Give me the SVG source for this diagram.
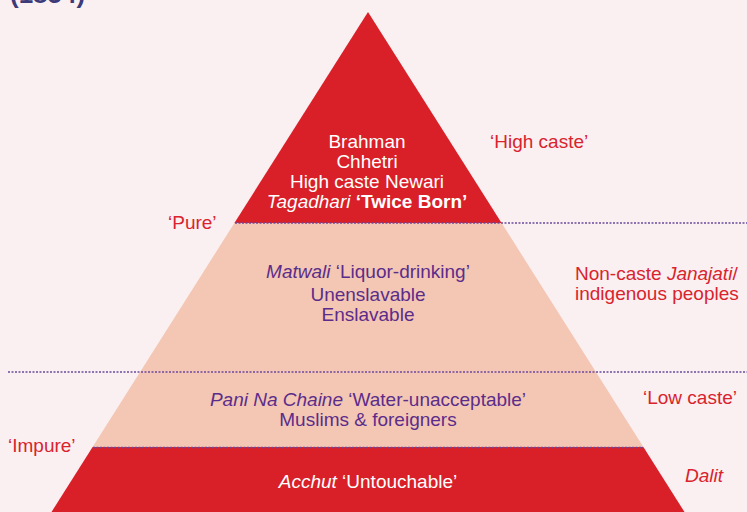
<svg xmlns="http://www.w3.org/2000/svg" width="747" height="512" viewBox="0 0 747 512">
<style>
text{font-family:"Liberation Sans",Arial,sans-serif;font-size:19px}
.w{fill:#ffffff}
.p{fill:#5b2d8a}
.r{fill:#d9232d}
.c{text-anchor:middle}
.i{font-style:italic}
.b{font-weight:bold}
.dot{stroke:#6b4a9e;stroke-width:1.5;stroke-dasharray:2 1.5;fill:none}
</style>
<rect width="747" height="512" fill="#faf0f1"/>
<text x="10" y="3" style="font-size:26px;font-weight:bold;fill:#3d3a7a">(1854)</text>
<g id="tier-top">
<polygon points="368,12 501.6,223 234.4,223" fill="#d91f28"/>
<text class="w c" x="367" y="148">Brahman</text>
<text class="w c" x="367" y="168">Chhetri</text>
<text class="w c" x="367" y="188">High caste Newari</text>
<text class="w c" x="367" y="208"><tspan class="i">Tagadhari</tspan> <tspan class="b">‘Twice Born’</tspan></text>
</g>
<g id="tier-middle">
<polygon points="234.4,223 501.6,223 643.4,447 92.6,447" fill="#f4c6b4"/>
<text class="p c" x="368" y="278"><tspan class="i">Matwali</tspan> ‘Liquor-drinking’</text>
<text class="p c" x="368" y="301">Unenslavable</text>
<text class="p c" x="368" y="321">Enslavable</text>
<text class="p c" x="368" y="406"><tspan class="i">Pani Na Chaine</tspan> ‘Water-unacceptable’</text>
<text class="p c" x="368" y="426">Muslims &amp; foreigners</text>
</g>
<g id="tier-bottom">
<polygon points="92.6,447 643.4,447 684.5,512 51.5,512" fill="#d91f28"/>
<text class="w c" x="368" y="488"><tspan class="i">Acchut</tspan> ‘Untouchable’</text>
</g>
<g id="labels">
<text class="r" x="490" y="148">‘High caste’</text>
<text class="r" x="168" y="229">‘Pure’</text>
<text class="r" x="575" y="280">Non-caste <tspan class="i">Janajati</tspan>/</text>
<text class="r" x="575" y="300">indigenous peoples</text>
<text class="r" x="643" y="404">‘Low caste’</text>
<text class="r" x="8" y="452">‘Impure’</text>
<text class="r i" x="685" y="482">Dalit</text>
</g>
<g id="connectors">
<line class="dot" x1="235" y1="223" x2="747" y2="223"/>
<line class="dot" x1="8" y1="372" x2="747" y2="372"/>
<line class="dot" x1="93" y1="447.5" x2="643" y2="447.5"/>
</g>
</svg>
